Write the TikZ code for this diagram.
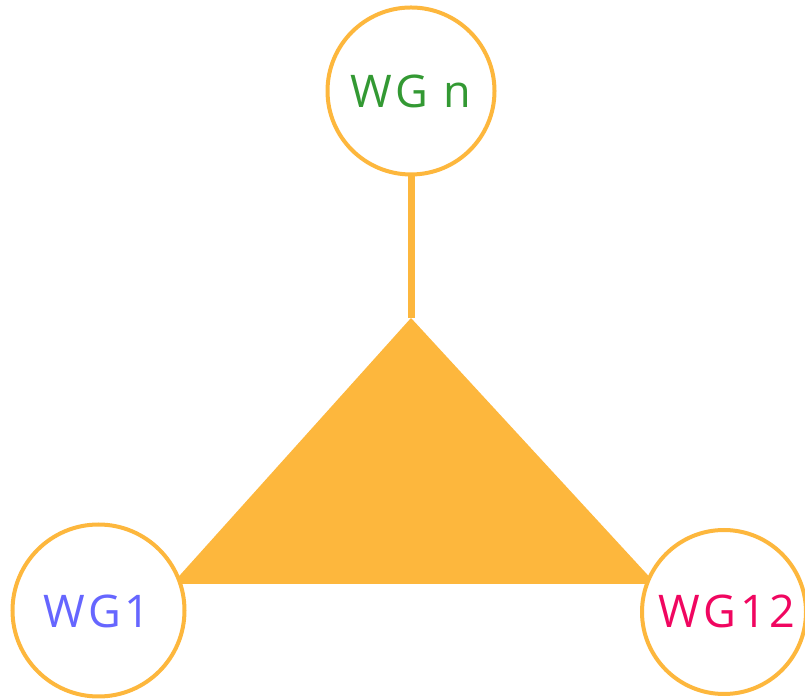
\documentclass[tikz,border=0pt]{standalone}
\usepackage{fontspec}
\setmainfont{Open Sans}[LetterSpace=8]
\definecolor{org}{HTML}{FDB73D}
\definecolor{wgg}{HTML}{339933}
\definecolor{wgb}{HTML}{6666FF}
\definecolor{wgp}{HTML}{F00660}
\begin{document}
\begin{tikzpicture}[x=1pt,y=1pt,
  wg/.style={circle,draw=org,line width=4pt,fill=white,inner sep=0pt},
  lbl/.style={inner sep=0pt,font=\fontsize{45}{45}\selectfont}]
\useasboundingbox (0,0) rectangle (805,700);
\coordinate (apex) at (411,382);
\coordinate (bl) at (172,116);
\coordinate (br) at (656,116);
\fill[org] (apex) -- (bl) -- (br) -- cycle;
\node[wg,minimum size=167pt] (n) at (411,609) {};
\node[wg,minimum size=172pt] (w1) at (98.5,89.5) {};
\node[wg,minimum size=164pt] (w12) at (724,88) {};
\node[lbl,text=wgg,anchor=base] (tn) at (411,592) {WG n};
\node[lbl,text=wgb,anchor=base] (t1) at (97,72) {WG1};
\node[lbl,text=wgp,anchor=base] (t12) at (727,72) {WG12};
\draw[org,line width=7pt] (n.south) -- (apex);
\end{tikzpicture}
\end{document}
